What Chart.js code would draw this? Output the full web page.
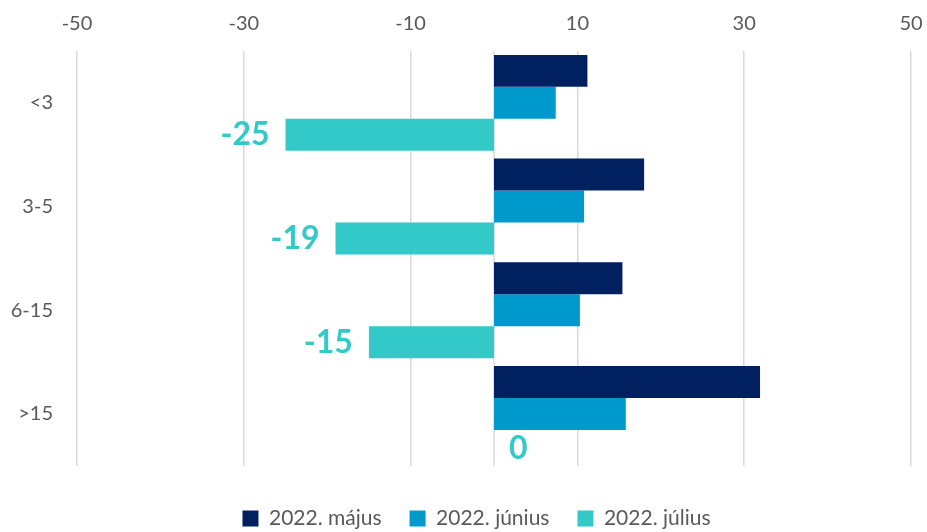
<!DOCTYPE html>
<html>
<head>
<meta charset="utf-8">
<script src="https://cdn.jsdelivr.net/npm/chart.js@4/dist/chart.umd.min.js"></script>
<style>
  html, body { margin: 0; padding: 0; background: #fff; }
  #wrap { width: 927px; height: 532px; }
</style>
</head>
<body>
<div id="wrap"><canvas id="grafico" width="927" height="532"></canvas></div>
<script>
// adatok
const kategoriak = ["<3", "3-5", "6-15", ">15"];
const majus = [11.2, 18.0, 15.4, 31.9];
const junius = [7.4, 10.8, 10.3, 15.8];
const julius = [-25, -19, -15, 0];
const tickErtekek = [-50, -30, -10, 10, 30, 50];

const szurke = '#595959';
const betu = 'Lato, "Open Sans", sans-serif';

// feliratok a júliusi oszlopokra + nulla vonal
const cimkek = {
    id: 'cimkek',
    beforeDatasetsDraw(chart) {
        const { ctx, chartArea, scales } = chart;
        const x0 = scales.x.getPixelForValue(0);
        ctx.save();
        ctx.strokeStyle = '#d9d9d9';
        ctx.lineWidth = 1.5;
        ctx.beginPath();
        ctx.moveTo(x0, chartArea.top);
        ctx.lineTo(x0, chartArea.bottom);
        ctx.stroke();
        ctx.restore();
    },
    afterDatasetsDraw(chart) {
        const { ctx } = chart;
        const meta = chart.getDatasetMeta(2);
        ctx.save();
        ctx.font = 'bold 32px ' + betu;
        ctx.fillStyle = '#33c9c9';
        ctx.textBaseline = 'middle';
        meta.data.forEach((el, i) => {
            const v = julius[i];
            if (v < 0) {
                ctx.textAlign = 'right';
                ctx.fillText(String(v), el.x - 16, el.y);
            } else {
                ctx.textAlign = 'left';
                ctx.fillText(String(v), el.x + 15, el.y + 3);
            }
        });
        ctx.restore();
    }
};

new Chart(document.getElementById('grafico'), {
    type: 'bar',
    data: {
        labels: kategoriak,
        datasets: [
            { label: '2022. május', data: majus, backgroundColor: '#002060' },
            { label: '2022. június', data: junius, backgroundColor: '#0099cc' },
            { label: '2022. július', data: julius, backgroundColor: '#33c9c9' }
        ]
    },
    options: {
        indexAxis: 'y',
        responsive: false,
        animation: false,
        devicePixelRatio: 1,
        datasets: { bar: { categoryPercentage: 0.925, barPercentage: 1.0 } },
        layout: { padding: { top: -3, right: -26, left: 0, bottom: -7 } },
        plugins: {
            tooltip: { enabled: false },
            legend: {
                position: 'bottom',
                title: { display: true, text: '', font: { size: 1 }, padding: { top: 13, bottom: 0 } },
                labels: {
                    color: szurke,
                    font: { family: betu, size: 21 },
                    boxWidth: 16,
                    boxHeight: 16,
                    padding: 28
                }
            }
        },
        scales: {
            x: {
                position: 'top',
                min: -50,
                max: 50,
                afterBuildTicks: ax => { ax.ticks = tickErtekek.map(v => ({ value: v })); },
                afterFit: sc => { sc.paddingLeft = 0; sc.paddingRight = 16; },
                ticks: { color: szurke, font: { family: betu, size: 20 }, padding: 15 },
                grid: { color: '#d9d9d9', lineWidth: 1.5, drawTicks: false },
                border: { display: false }
            },
            y: {
                afterFit: sc => { sc.width = 77; },
                ticks: { color: szurke, font: { family: betu, size: 20 }, padding: 24 },
                grid: { display: false, drawTicks: false },
                border: { display: false }
            }
        }
    },
    plugins: [cimkek]
});
</script>
</body>
</html>
